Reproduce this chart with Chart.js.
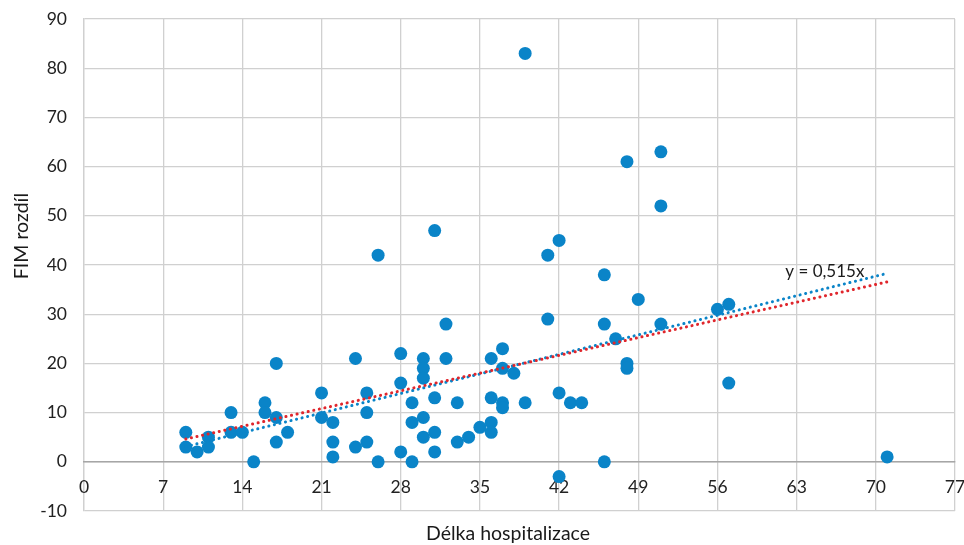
<!DOCTYPE html>
<html>
<head>
<meta charset="utf-8">
<script src="https://cdn.jsdelivr.net/npm/chart.js@4/dist/chart.umd.min.js"></script>
<style>
  html, body { margin: 0; padding: 0; background: #fff; }
  #wrap { width: 964px; height: 545px; }
</style>
</head>
<body>
<div id="wrap"><canvas id="c" width="964" height="545"></canvas></div>
<script>
// Length of stay (days) and FIM gain for each patient
const stayDays = [9, 9, 10, 11, 11, 13, 13, 14, 15, 16, 16, 17, 17, 17, 18, 21, 21, 22, 22, 22,
  24, 24, 25, 25, 25, 26, 26, 28, 28, 28, 29, 29, 29, 30, 30, 30, 30, 30, 31, 31, 31, 31,
  32, 32, 33, 33, 34, 35, 36, 36, 36, 36, 37, 37, 37, 37, 38, 39, 39, 41, 41, 42, 42, 42,
  43, 44, 46, 46, 46, 47, 48, 48, 48, 49, 51, 51, 51, 56, 57, 57, 71];
const fimGain = [6, 3, 2, 5, 3, 10, 6, 6, 0, 12, 10, 20, 9, 4, 6, 14, 9, 8, 4, 1,
  21, 3, 14, 10, 4, 42, 0, 22, 16, 2, 12, 8, 0, 21, 19, 17, 9, 5, 47, 13, 6, 2,
  28, 21, 12, 4, 5, 7, 21, 13, 8, 6, 23, 19, 12, 11, 18, 83, 12, 42, 29, 45, 14, -3,
  12, 12, 38, 28, 0, 25, 61, 20, 19, 33, 63, 52, 28, 31, 32, 16, 1];

// Trend lines over the observed range
const trendX = [9, 71];
const throughOriginSlope = 0.515;          // y = 0,515x
const fittedTrendY = [3.1, 38.3];          // least-squares line with intercept
const trendLabel = 'y = 0,515x';
const trendLabelAt = { x: 62, y: 38.7 };

const xTicks = [0, 7, 14, 21, 28, 35, 42, 49, 56, 63, 70, 77];
const yTicks = [-10, 0, 10, 20, 30, 40, 50, 60, 70, 80, 90];

const xTitle = 'Délka hospitalizace';
const yTitle = 'FIM rozdíl';

const BLUE = '#0a84c8';
const RED = '#e0262c';
const GRID = '#d0d0d0';
const FONT = 'Lato, "Open Sans", "Noto Sans", sans-serif';

const points = stayDays.map((d, i) => ({ x: d, y: fimGain[i] }));
const redTrend = trendX.map(x => ({ x, y: throughOriginSlope * x }));
const blueTrend = trendX.map((x, i) => ({ x, y: fittedTrendY[i] }));

const dotted = {
  showLine: true,
  pointRadius: 0,
  pointHoverRadius: 0,
  borderWidth: 3,
  borderDash: [0.1, 5.6],
  borderCapStyle: 'round',
  fill: false,
  tension: 0
};

const annotate = {
  id: 'annotate',
  afterDraw(chart) {
    const ctx = chart.ctx;
    const xs = chart.scales.x, ys = chart.scales.y;
    ctx.save();
    ctx.fillStyle = '#1a1a1a';
    ctx.font = '17px ' + FONT;
    ctx.textBaseline = 'middle';
    ctx.textAlign = 'left';
    ctx.fillText(trendLabel, xs.getPixelForValue(trendLabelAt.x), ys.getPixelForValue(trendLabelAt.y));

    ctx.font = '19.5px ' + FONT;
    ctx.textAlign = 'center';
    ctx.fillText(xTitle, 508, 534);

    ctx.translate(22, 236);
    ctx.rotate(-Math.PI / 2);
    ctx.fillText(yTitle, 0, 0);
    ctx.restore();
  }
};

new Chart(document.getElementById('c'), {
  type: 'scatter',
  data: {
    datasets: [
      Object.assign({ label: 'y = 0,515x', data: redTrend, borderColor: RED, order: 1 }, dotted),
      Object.assign({ label: 'trend', data: blueTrend, borderColor: BLUE, order: 2 }, dotted),
      {
        label: 'FIM rozdíl',
        data: points,
        backgroundColor: BLUE,
        borderWidth: 0,
        pointRadius: 6.5,
        pointHoverRadius: 6.5,
        order: 3
      }
    ]
  },
  options: {
    responsive: false,
    animation: false,
    events: [],
    layout: { padding: { left: 0, right: 9, top: 19, bottom: 34 } },
    plugins: { legend: { display: false }, tooltip: { enabled: false }, title: { display: false } },
    scales: {
      y: {
        type: 'linear',
        min: -10,
        max: 90,
        afterBuildTicks: s => { s.ticks = yTicks.map(v => ({ value: v })); },
        afterFit: s => { s.width = 84; s.paddingTop = 0; s.paddingBottom = 0; },
        ticks: { color: '#222', font: { family: FONT, size: 17.5 }, padding: 17, },
        grid: { color: GRID, lineWidth: 1.3, drawTicks: false },
        border: { color: GRID, width: 1.3 }
      },
      x: {
        type: 'linear',
        position: { y: 0 },
        min: 0,
        max: 77,
        afterBuildTicks: s => { s.ticks = xTicks.map(v => ({ value: v })); },
        afterFit: s => { s.paddingLeft = 0; s.paddingRight = 0; },
        ticks: { color: '#222', font: { family: FONT, size: 17.5 }, padding: 15, maxRotation: 0, autoSkip: false },
        grid: { color: GRID, lineWidth: 1.3, drawTicks: false },
        border: { color: '#a6a6a6', width: 1.6 }
      }
    }
  },
  plugins: [annotate]
});
</script>
</body>
</html>
